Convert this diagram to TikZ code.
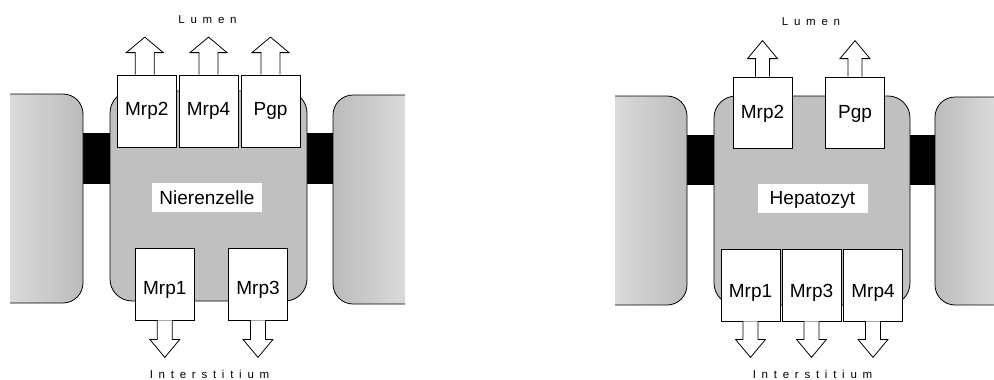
\documentclass[tikz,border=0pt]{standalone}
\usepackage{fontspec}
\setmainfont{Liberation Sans}
\newfontfamily\spacedfont[LetterSpace=50]{Liberation Sans}
\definecolor{cellgray}{HTML}{C0C0C0}
\definecolor{nlight}{HTML}{DADADA}
\definecolor{ndark}{HTML}{BBBBBB}
\newcommand\UpArr[6]{\begin{scope}[shift={(#1.north)}]\draw[arr] (#2-#3,0) -- (#2-#3,-#5) -- (#2-#4,-#5) -- (#2,-#5-#6) -- (#2+#4,-#5) -- (#2+#3,-#5) -- (#2+#3,0);\end{scope}}
\newcommand\DownArr[6]{\begin{scope}[shift={(#1.south)}]\draw[arr] (#2-#3,0) -- (#2-#3,#5) -- (#2-#4,#5) -- (#2,#5+#6) -- (#2+#4,#5) -- (#2+#3,#5) -- (#2+#3,0);\end{scope}}
\begin{document}
\begin{tikzpicture}[x=1pt,y=-1pt,line width=0.8pt,
  cellbody/.style={draw=black,fill=cellgray,rounded corners=22pt},
  junction/.style={fill=black},
  tbox/.style={draw=black,fill=white,minimum width=59pt,minimum height=72pt,inner sep=0pt},
  tlabel/.style={font=\fontsize{19}{22}\selectfont,anchor=base,inner sep=0pt},
  arr/.style={draw=black,fill=white,line join=miter},
  side/.style={font={\spacedfont\fontsize{11.5}{13}\selectfont},anchor=base,inner sep=0pt},
  cellname/.style={fill=white,minimum width=110pt,minimum height=29pt,inner sep=0pt,text depth=0pt,font=\fontsize{19}{22}\selectfont}]
\useasboundingbox (0,0) rectangle (994,380);

% ---------- left figure ----------
\fill[junction] (83,133) rectangle (110,184);
\fill[junction] (307,133) rectangle (333,184);
\shade[left color=nlight,right color=ndark] (10,94) [rounded corners=20pt] -- (83,94) -- (83,303) [sharp corners] -- (10,303) -- cycle;
\draw (10,94) [rounded corners=20pt] -- (83,94) -- (83,303) [sharp corners] -- (10,303);
\shade[left color=ndark,right color=nlight] (405,95) [rounded corners=20pt] -- (333,95) -- (333,304) [sharp corners] -- (405,304) -- cycle;
\draw (405,95) [rounded corners=20pt] -- (333,95) -- (333,304) [sharp corners] -- (405,304);
\draw[cellbody] (110,91) rectangle (307,301);

\node[tbox] (lmrp2) at (146.8,111) {};
\node[tbox] (lmrp4) at (208.5,111) {};
\node[tbox] (lpgp)  at (270.5,111) {};
\node[tbox] (lmrp1) at (164.8,284) {};
\node[tbox] (lmrp3) at (258,284) {};
\UpArr{lmrp2}{-2}{9.5}{18.5}{22}{15.5}
\UpArr{lmrp4}{0}{9.5}{18.5}{22}{15.5}
\UpArr{lpgp}{0}{9.5}{18.5}{22}{15.5}
\DownArr{lmrp1}{0}{7.5}{15}{19}{18}
\DownArr{lmrp3}{0}{7.5}{15}{19}{18}
\node[tlabel] (tlmrp2) at (146.8,115) {Mrp2};
\node[tlabel] (tlmrp4) at (208.5,115) {Mrp4};
\node[tlabel] (tlpgp)  at (270.5,115) {Pgp};
\node[tlabel] (tlmrp1) at (164.8,294) {Mrp1};
\node[tlabel] (tlmrp3) at (258,294) {Mrp3};
\node[cellname] (niere) at (207,197.5) {Nierenzelle};
\node[side] (llumen) at (207.5,23.3) {Lumen};
\node[side] (linter) at (209.5,378) {Interstitium};

% ---------- right figure ----------
\fill[junction] (687,135) rectangle (714,185);
\fill[junction] (910,135) rectangle (935,185);
\shade[left color=nlight,right color=ndark] (615,96) [rounded corners=20pt] -- (687,96) -- (687,305) [sharp corners] -- (615,305) -- cycle;
\draw (615,96) [rounded corners=20pt] -- (687,96) -- (687,305) [sharp corners] -- (615,305);
\shade[left color=ndark,right color=nlight] (994,97) [rounded corners=20pt] -- (935,97) -- (935,305) [sharp corners] -- (994,305) -- cycle;
\draw (994,97) [rounded corners=20pt] -- (935,97) -- (935,305) [sharp corners] -- (994,305);
\draw[cellbody] (714,96) rectangle (910,305);

\node[tbox,minimum height=71pt] (rmrp2) at (762.5,112.5) {};
\node[tbox,minimum height=71pt] (rpgp)  at (855,112.5) {};
\node[tbox] (rmrp1) at (750.5,285) {};
\node[tbox] (rmrp3) at (811.5,285) {};
\node[tbox] (rmrp4) at (873,285) {};
\UpArr{rmrp2}{0}{7}{15}{18}{18}
\UpArr{rpgp}{0}{7}{15}{18}{18}
\DownArr{rmrp1}{0}{7.5}{15}{18}{18}
\DownArr{rmrp3}{0}{7.5}{15}{18}{18}
\DownArr{rmrp4}{0}{7.5}{15}{18}{18}
\node[tlabel] (trmrp2) at (762.5,118) {Mrp2};
\node[tlabel] (trpgp)  at (855,118) {Pgp};
\node[tlabel] (trmrp1) at (750.5,297) {Mrp1};
\node[tlabel] (trmrp3) at (811.5,297) {Mrp3};
\node[tlabel] (trmrp4) at (873,297) {Mrp4};
\node[cellname] (hepa) at (812.5,198) {Hepatozyt};
\node[side] (rlumen) at (811,25) {Lumen};
\node[side] (rinter) at (812.5,378) {Interstitium};
\end{tikzpicture}
\end{document}
